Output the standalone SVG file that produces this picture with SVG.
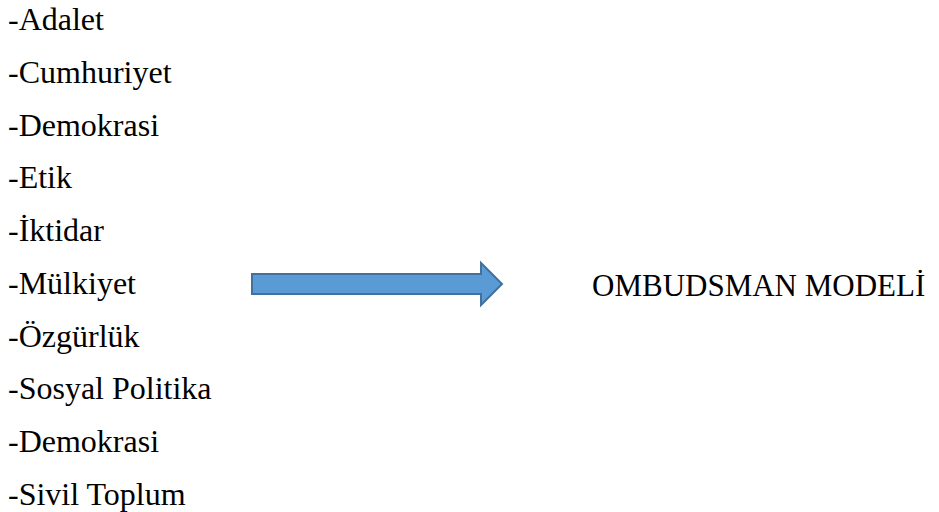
<svg xmlns="http://www.w3.org/2000/svg" width="939" height="512" viewBox="0 0 939 512">
<style>
.t{font-family:"Liberation Serif","Times New Roman",serif;font-size:32px;fill:#000}
.h{font-family:"Liberation Serif","Times New Roman",serif;font-size:31px;fill:#000}
.arrow{fill:#5B9BD5;stroke:#41719C;stroke-width:2;stroke-linejoin:miter}
</style>
<rect width="939" height="512" fill="#fff"/>
<g id="list">
<text class="t" x="8" y="30.3">-Adalet</text>
<text class="t" x="8" y="83">-Cumhuriyet</text>
<text class="t" x="8" y="135.7">-Demokrasi</text>
<text class="t" x="8" y="188.4">-Etik</text>
<text class="t" x="8" y="241.1">-İktidar</text>
<text class="t" x="8" y="293.8">-Mülkiyet</text>
<text class="t" x="8" y="346.5">-Özgürlük</text>
<text class="t" x="8" y="399.2">-Sosyal Politika</text>
<text class="t" x="8" y="451.9">-Demokrasi</text>
<text class="t" x="8" y="504.6">-Sivil Toplum</text>
</g>
<g id="connectors">
<path class="arrow" d="M252,274 H481 V263 L502,284 L481,305 V294 H252 Z"/>
</g>
<g id="target">
<text class="h" x="592" y="296">OMBUDSMAN MODELİ</text>
</g>
</svg>
